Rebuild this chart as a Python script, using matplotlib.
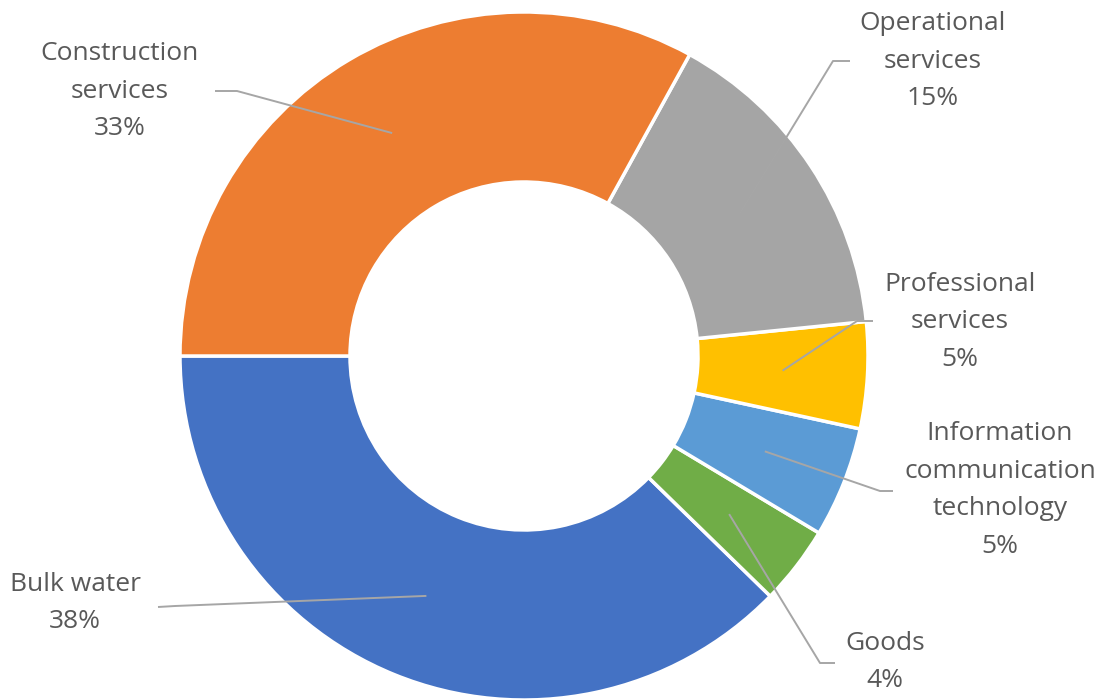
import numpy as np
import matplotlib.pyplot as plt

# Date
categories = ['Bulk water', 'Goods', 'Information\ncommunication\ntechnology',
              'Professional\nservices', 'Operational\nservices', 'Construction\nservices']
values = [37.7, 3.7, 5.2, 5.0, 15.4, 33.0]
colors = ['#4472C4', '#70AD47', '#5B9BD5', '#FFC000', '#A5A5A5', '#ED7D31']

# Layout (pixeli imagine, y de sus in jos)
W, H = 1107, 699
cx, cy = 524, 356
r_out, r_in = 344, 174
text_pos = [(75, 603), (885, 662), (1000, 490), (960, 322), (933, 61), (120, 91)]
elbow = [[(175, 606), (158, 607)],
         [(820, 663), (835, 663)],
         [(880, 491), (893, 491)],
         [(857, 321), (873, 321)],
         [(833, 61), (850, 61)],
         [(237, 91), (215, 91)]]

fig = plt.figure(figsize=(W / 100, H / 100), dpi=100)
ax = fig.add_axes([0, 0, 1, 1])

wedges, _ = ax.pie(values, colors=colors, startangle=180, counterclock=True,
                   radius=r_out, center=(cx, H - cy),
                   wedgeprops=dict(width=r_out - r_in, edgecolor='white', linewidth=2.5))

r_mid = (r_out + r_in) / 2
for w, name, v, tp, el in zip(wedges, categories, values, text_pos, elbow):
    a = np.deg2rad((w.theta1 + w.theta2) / 2)
    x0 = cx + r_mid * np.cos(a)
    y0 = (H - cy) + r_mid * np.sin(a)
    xs = [x0] + [p[0] for p in el]
    ys = [y0] + [H - p[1] for p in el]
    ax.plot(xs, ys, color='#A6A6A6', lw=1.4, solid_capstyle='butt')
    ax.text(tp[0], H - tp[1], f'{name}\n{v:.0f}%', ha='center', va='center',
            fontsize=19, family='Open Sans', color='#595959', linespacing=1.66)

ax.set_xlim(0, W)
ax.set_ylim(0, H)
ax.set_aspect('equal')
ax.axis('off')

plt.savefig('out.png', dpi=100)
